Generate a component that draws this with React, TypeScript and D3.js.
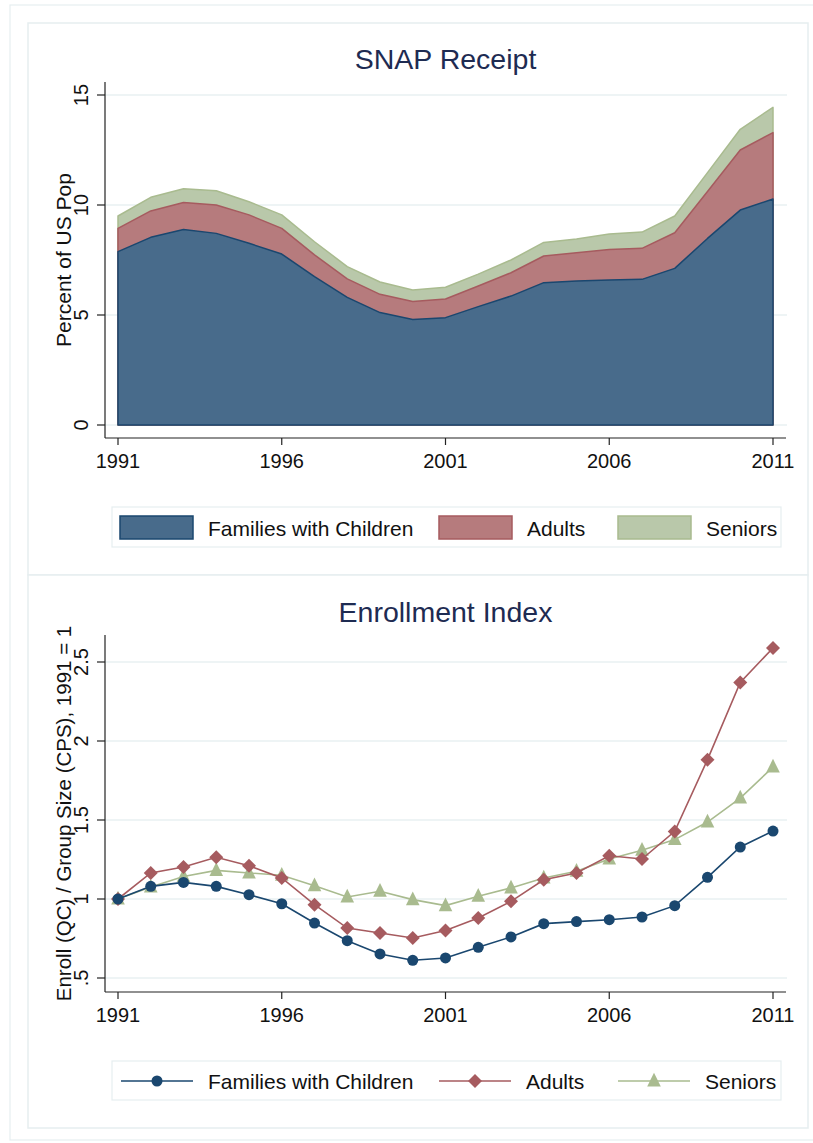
import React from "react";
import * as d3 from "d3";

const years = d3.range(1991, 2012);

// SNAP receipt, percent of US population, by group (stacked)
const familiesPct = [7.88, 8.53, 8.89, 8.71, 8.26, 7.77, 6.74, 5.80, 5.11, 4.80, 4.88, 5.38, 5.86, 6.47, 6.55, 6.59, 6.62, 7.12, 8.48, 9.77, 10.27];
const adultsPct = [1.06, 1.20, 1.22, 1.29, 1.29, 1.17, 0.99, 0.84, 0.83, 0.81, 0.85, 0.94, 1.06, 1.21, 1.28, 1.39, 1.41, 1.62, 2.13, 2.73, 3.02];
const seniorsPct = [0.56, 0.62, 0.63, 0.65, 0.60, 0.61, 0.60, 0.56, 0.56, 0.53, 0.53, 0.54, 0.58, 0.62, 0.62, 0.70, 0.74, 0.76, 0.86, 0.94, 1.15];

// Enrollment index (1991 = 1)
const familiesIdx = [1.0, 1.08, 1.105, 1.08, 1.027, 0.97, 0.848, 0.736, 0.652, 0.612, 0.627, 0.694, 0.76, 0.844, 0.857, 0.869, 0.886, 0.958, 1.137, 1.329, 1.43];
const adultsIdx = [1.0, 1.165, 1.203, 1.264, 1.211, 1.133, 0.964, 0.816, 0.785, 0.753, 0.80, 0.88, 0.985, 1.122, 1.165, 1.274, 1.253, 1.428, 1.882, 2.371, 2.589];
const seniorsIdx = [1.0, 1.076, 1.143, 1.181, 1.165, 1.15, 1.084, 1.013, 1.049, 0.996, 0.958, 1.017, 1.07, 1.133, 1.175, 1.253, 1.308, 1.376, 1.487, 1.639, 1.835];

const xTicks = [1991, 1996, 2001, 2006, 2011];
const yTicksTop = [0, 5, 10, 15];
const yTicksBottom = [0.5, 1, 1.5, 2, 2.5];
const yTickLabelsBottom = [".5", "1", "1.5", "2", "2.5"];
const seriesNames = ["Families with Children", "Adults", "Seniors"];

const FONT = "'Liberation Sans', Arial, Helvetica, sans-serif";
const navy = "#1a476f";
const famFill = "#486b8b";
const adFill = "#b67b7d";
const adLine = "#a65b5f";
const seFill = "#b9c8aa";
const seLine = "#a9bb8f";
const gridC = "#e9f0f2";
const frameC = "#e6eef0";
const axisC = "#222";

const diamondPath = (h: number) => `M0,${-h}L${h},0L0,${h}L${-h},0Z`;
const trianglePath = (s: number) => `M0,${-s * 0.75}L${s * 0.62},${s * 0.5}L${-s * 0.62},${s * 0.5}Z`;

export default function App() {
  const x = d3.scaleLinear().domain([1991, 2011]).range([118, 773]);
  const yTop = d3.scaleLinear().domain([0, 15]).range([425, 95]);
  const yBot = d3.scaleLinear().domain([0.5, 2.5]).range([978, 662]);

  const cumAdults = familiesPct.map((v, i) => v + adultsPct[i]);
  const cumSeniors = cumAdults.map((v, i) => v + seniorsPct[i]);

  const area = (vals: number[]) =>
    d3
      .area<number>()
      .x((_, i) => x(years[i]))
      .y0(yTop(0))
      .y1((d) => yTop(d))(vals) as string;

  const line = (vals: number[]) =>
    d3
      .line<number>()
      .x((_, i) => x(years[i]))
      .y((d) => yBot(d))(vals) as string;

  const circleSym = d3.symbol().type(d3.symbolCircle).size(Math.PI * 5.5 * 5.5)() as string;

  const axisLeft = 105;
  const axisRight = 786;

  const renderXAxis = (yAxis: number, labelY: number) => (
    <g>
      <line x1={axisLeft} x2={axisRight} y1={yAxis} y2={yAxis} stroke={axisC} strokeWidth={1.2} />
      {xTicks.map((t) => (
        <g key={t}>
          <line x1={x(t)} x2={x(t)} y1={yAxis} y2={yAxis + 7} stroke={axisC} strokeWidth={1.2} />
          <text x={x(t)} y={labelY} textAnchor="middle" fontSize={20} fontFamily={FONT} fill="#111">
            {t}
          </text>
        </g>
      ))}
    </g>
  );

  return (
    <svg width={813} height={1143} style={{ position: "absolute", left: 0, top: 0, background: "#fff" }}>
      <rect x={0} y={0} width={813} height={1143} fill="#fff" />
      {/* outer frame */}
      <rect x={10} y={5} width={830} height={1135} fill="none" stroke={frameC} strokeWidth={1.2} />
      {/* panels */}
      <rect x={28} y={23} width={780} height={552} fill="#fff" stroke={frameC} strokeWidth={1.5} />
      <rect x={28} y={575} width={780} height={553} fill="#fff" stroke={frameC} strokeWidth={1.5} />

      {/* ===== Top chart ===== */}
      <text x={445.5} y={69} textAnchor="middle" fontSize={28.5} fontFamily={FONT} fill="#1e2b52">
        SNAP Receipt
      </text>
      {yTicksTop.map((t) => (
        <g key={t}>
          <line x1={axisLeft} x2={787} y1={yTop(t)} y2={yTop(t)} stroke={gridC} strokeWidth={1.5} />
          <line x1={97} x2={axisLeft} y1={yTop(t)} y2={yTop(t)} stroke={axisC} strokeWidth={1.2} />
          <text
            transform={`translate(87.5,${yTop(t)}) rotate(-90)`}
            textAnchor="middle"
            fontSize={20}
            fontFamily={FONT}
            fill="#111"
          >
            {t}
          </text>
        </g>
      ))}
      <path d={area(cumSeniors)} fill={seFill} stroke={seLine} strokeWidth={1.5} strokeLinejoin="round" />
      <path d={area(cumAdults)} fill={adFill} stroke={adLine} strokeWidth={1.5} strokeLinejoin="round" />
      <path d={area(familiesPct)} fill={famFill} stroke={navy} strokeWidth={1.5} strokeLinejoin="round" />
      <line x1={axisLeft} x2={axisLeft} y1={82} y2={438} stroke={axisC} strokeWidth={1.2} />
      {renderXAxis(438, 468)}
      <text
        transform={`translate(71,${(yTop(0) + yTop(15)) / 2}) rotate(-90)`}
        textAnchor="middle"
        fontSize={21}
        fontFamily={FONT}
        fill="#111"
      >
        Percent of US Pop
      </text>

      {/* Top legend */}
      <rect x={112} y={507} width={669} height={40} fill="#fff" stroke={frameC} strokeWidth={1.2} />
      {[famFill, adFill, seFill].map((c, i) => {
        const sx = [120, 439, 618][i];
        const strokes = [navy, adLine, seLine];
        return (
          <g key={i}>
            <rect x={sx} y={516} width={73} height={23} fill={c} stroke={strokes[i]} strokeWidth={1.5} />
            <text x={sx + 88} y={535.5} fontSize={21} fontFamily={FONT} fill="#111">
              {seriesNames[i]}
            </text>
          </g>
        );
      })}

      {/* ===== Bottom chart ===== */}
      <text x={445.5} y={622} textAnchor="middle" fontSize={28.5} fontFamily={FONT} fill="#1e2b52">
        Enrollment Index
      </text>
      {yTicksBottom.map((t, i) => (
        <g key={t}>
          <line x1={axisLeft} x2={787} y1={yBot(t)} y2={yBot(t)} stroke={gridC} strokeWidth={1.5} />
          <line x1={97} x2={axisLeft} y1={yBot(t)} y2={yBot(t)} stroke={axisC} strokeWidth={1.2} />
          <text
            transform={`translate(87.5,${yBot(t)}) rotate(-90)`}
            textAnchor="middle"
            fontSize={20}
            fontFamily={FONT}
            fill="#111"
          >
            {yTickLabelsBottom[i]}
          </text>
        </g>
      ))}
      <line x1={axisLeft} x2={axisLeft} y1={635} y2={992} stroke={axisC} strokeWidth={1.2} />
      {renderXAxis(992, 1022)}
      <text
        transform={`translate(71,${(635 + 992) / 2}) rotate(-90)`}
        textAnchor="middle"
        fontSize={20.5}
        fontFamily={FONT}
        fill="#111"
      >
        Enroll (QC) / Group Size (CPS), 1991 = 1
      </text>

      {/* lines */}
      <path d={line(seniorsIdx)} fill="none" stroke={seLine} strokeWidth={1.6} />
      {seniorsIdx.map((v, i) => (
        <path key={"s" + i} d={trianglePath(11)} transform={`translate(${x(years[i])},${yBot(v)})`} fill={seLine} />
      ))}
      <path d={line(adultsIdx)} fill="none" stroke={adLine} strokeWidth={1.6} />
      {adultsIdx.map((v, i) => (
        <path key={"a" + i} d={diamondPath(7)} transform={`translate(${x(years[i])},${yBot(v)})`} fill={adLine} />
      ))}
      <path d={line(familiesIdx)} fill="none" stroke={navy} strokeWidth={1.6} />
      {familiesIdx.map((v, i) => (
        <path key={"f" + i} d={circleSym} transform={`translate(${x(years[i])},${yBot(v)})`} fill={navy} />
      ))}

      {/* Bottom legend */}
      <rect x={112} y={1061} width={669} height={39} fill="#fff" stroke={frameC} strokeWidth={1.2} />
      {[navy, adLine, seLine].map((c, i) => {
        const sx = [121, 439, 618][i];
        const cx = sx + 36;
        return (
          <g key={i}>
            <line x1={sx} x2={sx + 72} y1={1081} y2={1081} stroke={c} strokeWidth={1.6} />
            {i === 0 && <path d={circleSym} transform={`translate(${cx},1081)`} fill={c} />}
            {i === 1 && <path d={diamondPath(7)} transform={`translate(${cx},1081)`} fill={c} />}
            {i === 2 && <path d={trianglePath(11)} transform={`translate(${cx},1081)`} fill={c} />}
            <text x={sx + 87} y={1088.5} fontSize={21} fontFamily={FONT} fill="#111">
              {seriesNames[i]}
            </text>
          </g>
        );
      })}
    </svg>
  );
}
